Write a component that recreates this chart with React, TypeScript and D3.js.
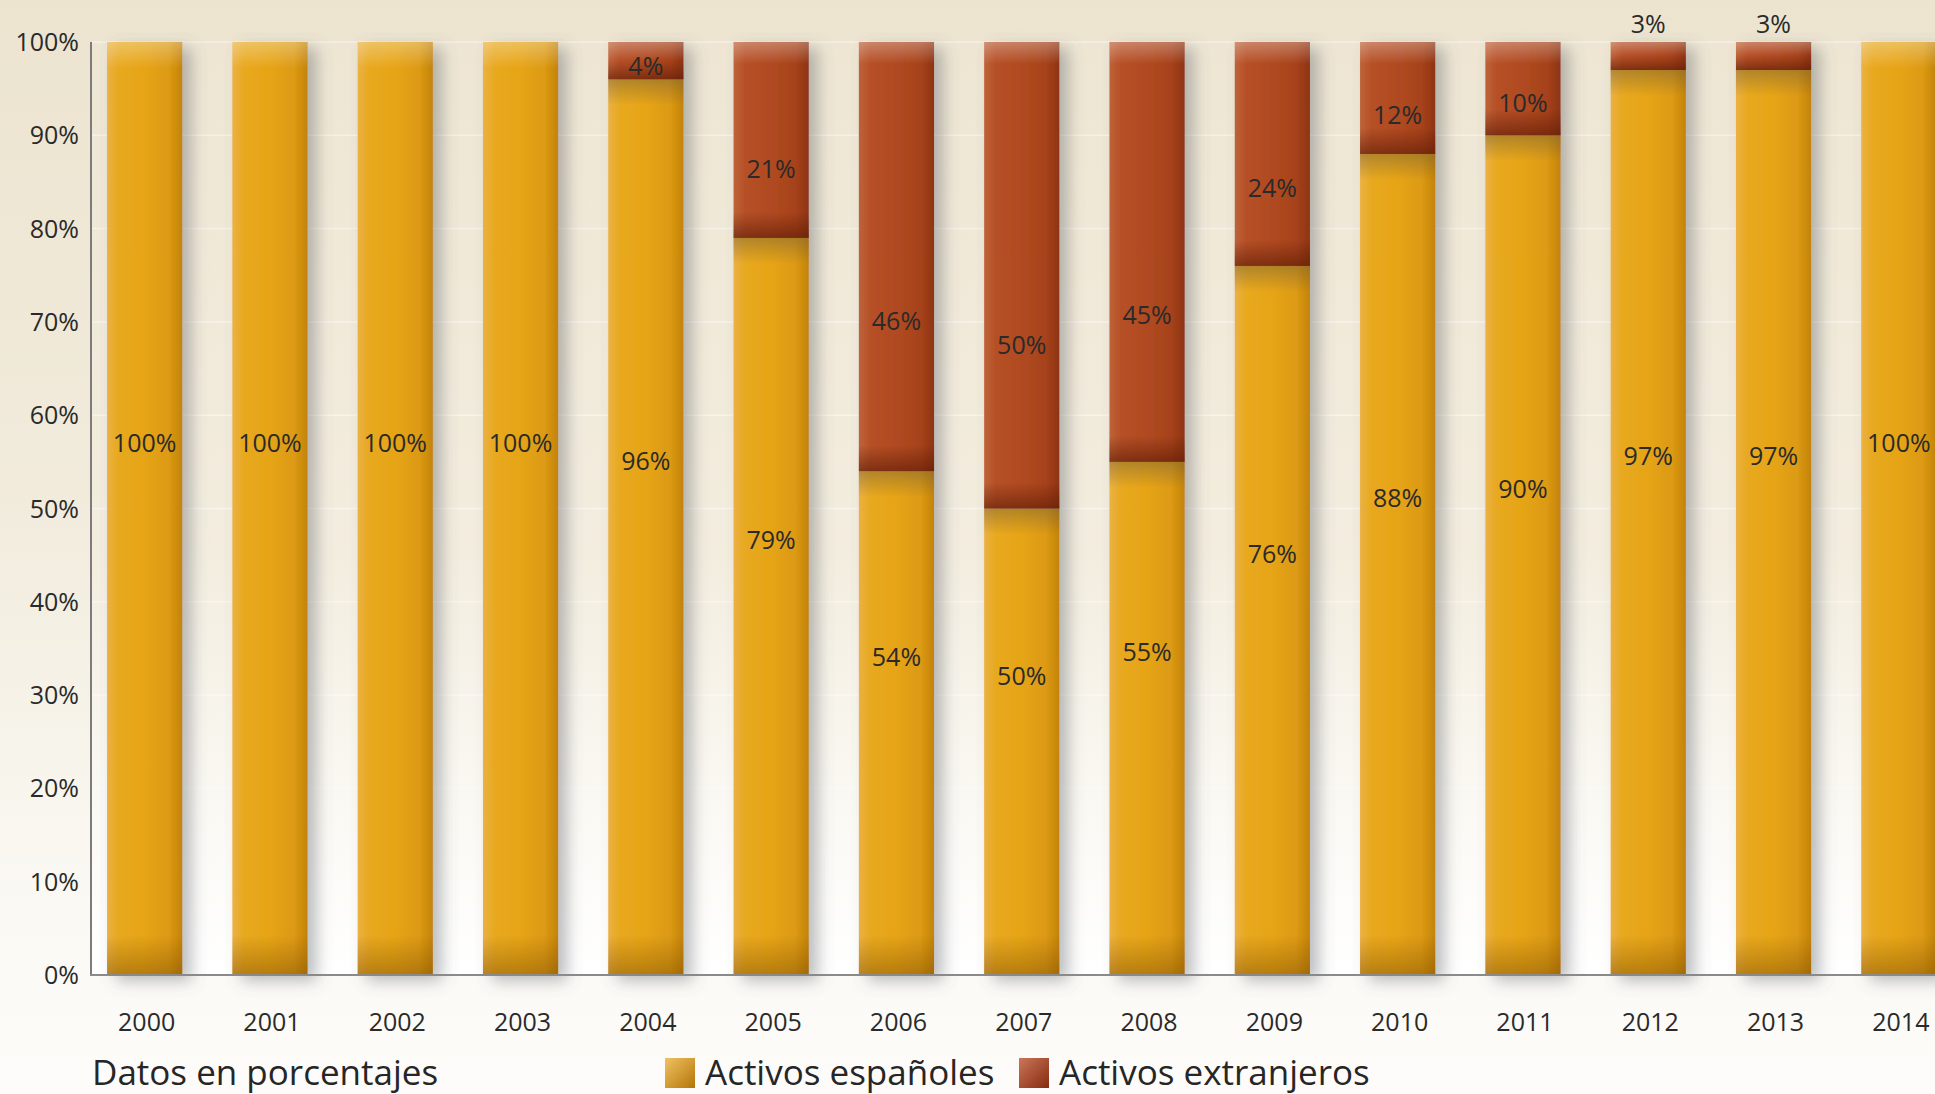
import React, { useRef, useEffect } from 'react';
import * as d3 from 'd3';

const years = ['2000', '2001', '2002', '2003', '2004', '2005', '2006', '2007', '2008', '2009', '2010', '2011', '2012', '2013', '2014'];
const espanoles = [100, 100, 100, 100, 96, 79, 54, 50, 55, 76, 88, 90, 97, 97, 100];
const extranjeros = [0, 0, 0, 0, 4, 21, 46, 50, 45, 24, 12, 10, 3, 3, 0];
const yTicks = [0, 10, 20, 30, 40, 50, 60, 70, 80, 90, 100];
const seriesNames = ['Activos españoles', 'Activos extranjeros'];
const note = 'Datos en porcentajes';

const W = 1935;
const H = 1094;
const FONT = '"Open Sans", "Noto Sans", sans-serif';

const App: React.FC = () => {
  const svgRef = useRef<SVGSVGElement>(null);

  useEffect(() => {
    const svg = d3.select(svgRef.current);
    svg.selectAll('*').remove();

    const x = d3.scaleBand<string>()
      .domain(years)
      .range([82, 1961.5])
      .paddingInner(0.4)
      .paddingOuter(0.2);
    const y = d3.scaleLinear().domain([0, 100]).range([975, 42]);
    const bw = x.bandwidth();

    const defs = svg.append('defs');

    // background
    const bg = defs.append('linearGradient').attr('id', 'bg').attr('x1', 0).attr('y1', 0).attr('x2', 0).attr('y2', 1);
    bg.append('stop').attr('offset', '0%').attr('stop-color', '#ECE4CF');
    bg.append('stop').attr('offset', '45%').attr('stop-color', '#F1EBDC');
    bg.append('stop').attr('offset', '80%').attr('stop-color', '#FAF8F2');
    bg.append('stop').attr('offset', '100%').attr('stop-color', '#FDFCFA');

    const plotBg = defs.append('linearGradient').attr('id', 'plotbg').attr('x1', 0).attr('y1', 0).attr('x2', 0).attr('y2', 1);
    plotBg.append('stop').attr('offset', '0%').attr('stop-color', '#EEE6D3');
    plotBg.append('stop').attr('offset', '55%').attr('stop-color', '#F3EDDF');
    plotBg.append('stop').attr('offset', '80%').attr('stop-color', '#FAF8F2');
    plotBg.append('stop').attr('offset', '100%').attr('stop-color', '#FFFFFF');

    // bar gradients
    const og = defs.append('linearGradient').attr('id', 'orangeH').attr('x1', 0).attr('y1', 0).attr('x2', 1).attr('y2', 0);
    [['0%', '#EBB143'], ['15%', '#E8A920'], ['50%', '#E6A416'], ['82%', '#DC9A12'], ['100%', '#C3830E']]
      .forEach(([o, c]) => og.append('stop').attr('offset', o).attr('stop-color', c));

    const rg = defs.append('linearGradient').attr('id', 'redH').attr('x1', 0).attr('y1', 0).attr('x2', 1).attr('y2', 0);
    [['0%', '#BE633A'], ['15%', '#B65027'], ['50%', '#B04A21'], ['82%', '#A6421B'], ['100%', '#8E3413']]
      .forEach(([o, c]) => rg.append('stop').attr('offset', o).attr('stop-color', c));

    const vGrad = (id: string, c1: string, o1: number, c2: string, o2: number) => {
      const g = defs.append('linearGradient').attr('id', id).attr('x1', 0).attr('y1', 0).attr('x2', 0).attr('y2', 1);
      g.append('stop').attr('offset', '0%').attr('stop-color', c1).attr('stop-opacity', o1);
      g.append('stop').attr('offset', '100%').attr('stop-color', c2).attr('stop-opacity', o2);
    };
    vGrad('hiTop', '#FFFFFF', 0.3, '#FFFFFF', 0);
    vGrad('shTop', '#6E5A3A', 0.45, '#6E5A3A', 0);
    vGrad('darkBot', '#7A4A00', 0, '#7A4A00', 0.45);
    vGrad('redBot', '#5A1A04', 0, '#5A1A04', 0.6);

    const lg1 = defs.append('linearGradient').attr('id', 'legO').attr('x1', 0).attr('y1', 0).attr('x2', 1).attr('y2', 1);
    lg1.append('stop').attr('offset', '0%').attr('stop-color', '#F1C165');
    lg1.append('stop').attr('offset', '100%').attr('stop-color', '#B47606');
    const lg2 = defs.append('linearGradient').attr('id', 'legR').attr('x1', 0).attr('y1', 0).attr('x2', 1).attr('y2', 1);
    lg2.append('stop').attr('offset', '0%').attr('stop-color', '#C9775A');
    lg2.append('stop').attr('offset', '100%').attr('stop-color', '#872A0E');

    const shadow = defs.append('filter').attr('id', 'shadow')
      .attr('x', '-20%').attr('y', '-5%').attr('width', '160%').attr('height', '115%');
    shadow.append('feDropShadow')
      .attr('dx', 9).attr('dy', 6).attr('stdDeviation', 8)
      .attr('flood-color', '#5F6168').attr('flood-opacity', 0.42);

    svg.append('rect').attr('width', W).attr('height', H).attr('fill', 'url(#bg)');
    svg.append('rect')
      .attr('x', 92).attr('y', y(100)).attr('width', W - 92).attr('height', y(0) - y(100))
      .attr('fill', 'url(#plotbg)');

    // faint grid
    svg.append('g').selectAll('line')
      .data(yTicks.slice(1))
      .enter().append('line')
      .attr('x1', 92).attr('x2', W)
      .attr('y1', d => y(d)).attr('y2', d => y(d))
      .attr('stroke', '#FFFFFF').attr('stroke-opacity', 0.45).attr('stroke-width', 1.5);

    // bars
    const bars = svg.append('g');
    years.forEach((yr, i) => {
      const x0 = x(yr) as number;
      const g = bars.append('g').attr('filter', 'url(#shadow)');
      const oTop = y(espanoles[i]);
      const oBot = y(0);
      g.append('rect').attr('x', x0).attr('y', oTop).attr('width', bw).attr('height', oBot - oTop).attr('fill', 'url(#orangeH)');
      if (extranjeros[i] > 0) {
        const rTop = y(100);
        g.append('rect').attr('x', x0).attr('y', rTop).attr('width', bw).attr('height', oTop - rTop).attr('fill', 'url(#redH)');
      }
    });

    // shading overlays (no filter)
    const over = svg.append('g');
    years.forEach((yr, i) => {
      const x0 = x(yr) as number;
      const oTop = y(espanoles[i]);
      const oBot = y(0);
      const hasRed = extranjeros[i] > 0;
      over.append('rect').attr('x', x0).attr('y', oTop).attr('width', bw).attr('height', 26)
        .attr('fill', hasRed ? 'url(#shTop)' : 'url(#hiTop)');
      over.append('rect').attr('x', x0).attr('y', oBot - 40).attr('width', bw).attr('height', 40)
        .attr('fill', 'url(#darkBot)');
      if (hasRed) {
        const rTop = y(100);
        const rh = oTop - rTop;
        over.append('rect').attr('x', x0).attr('y', rTop).attr('width', bw).attr('height', Math.min(22, rh / 2))
          .attr('fill', 'url(#hiTop)');
        over.append('rect').attr('x', x0).attr('y', oTop - Math.min(26, rh / 2)).attr('width', bw)
          .attr('height', Math.min(26, rh / 2)).attr('fill', 'url(#redBot)');
      }
    });

    // axes
    svg.append('line')
      .attr('x1', 91).attr('x2', 91).attr('y1', y(100)).attr('y2', y(0) + 1)
      .attr('stroke', '#7C7C7C').attr('stroke-width', 2);
    svg.append('line')
      .attr('x1', 90).attr('x2', W).attr('y1', y(0)).attr('y2', y(0))
      .attr('stroke', '#8A8A8A').attr('stroke-width', 2);

    svg.append('g').selectAll('text')
      .data(yTicks)
      .enter().append('text')
      .attr('x', 79)
      .attr('y', d => y(d))
      .attr('dy', '0.36em')
      .attr('text-anchor', 'end')
      .style('font-family', FONT)
      .style('font-size', '25px')
      .style('fill', '#2A2A2A')
      .text(d => `${d}%`);

    svg.append('g').selectAll('text')
      .data(years)
      .enter().append('text')
      .attr('x', d => (x(d) as number) + bw / 2 + 2)
      .attr('y', 1031)
      .attr('text-anchor', 'middle')
      .style('font-family', FONT)
      .style('font-size', '25px')
      .style('fill', '#2A2A2A')
      .text(d => d);

    // value labels
    const labels = svg.append('g')
      .style('font-family', FONT)
      .style('font-size', '25px')
      .style('fill', '#2A2A2A')
      .attr('text-anchor', 'middle');
    years.forEach((yr, i) => {
      const cx = (x(yr) as number) + bw / 2;
      const oTop = y(espanoles[i]);
      labels.append('text')
        .attr('x', cx)
        .attr('y', (oTop + y(0)) / 2 - 66)
        .attr('dy', '0.36em')
        .text(`${espanoles[i]}%`);
      if (extranjeros[i] > 0) {
        const rTop = y(100);
        const ly = extranjeros[i] <= 3 ? rTop - 18 : rTop + 0.65 * (oTop - rTop);
        labels.append('text')
          .attr('x', cx)
          .attr('y', ly)
          .attr('dy', '0.36em')
          .text(`${extranjeros[i]}%`);
      }
    });

    // footer
    svg.append('text')
      .attr('x', 92).attr('y', 1085)
      .style('font-family', FONT).style('font-size', '35px').style('fill', '#262626')
      .text(note);

    const legend = svg.append('g');
    const legendX = [665, 1019];
    seriesNames.forEach((name, i) => {
      legend.append('rect')
        .attr('x', legendX[i]).attr('y', 1058).attr('width', 30).attr('height', 30)
        .attr('fill', i === 0 ? 'url(#legO)' : 'url(#legR)');
      legend.append('text')
        .attr('x', legendX[i] + 40).attr('y', 1085)
        .style('font-family', FONT).style('font-size', '35px').style('fill', '#262626')
        .text(name);
    });
  }, []);

  return (
    <svg
      ref={svgRef}
      width={W}
      height={H}
      style={{ position: 'absolute', left: 0, top: 0, display: 'block' }}
    />
  );
};

export default App;
